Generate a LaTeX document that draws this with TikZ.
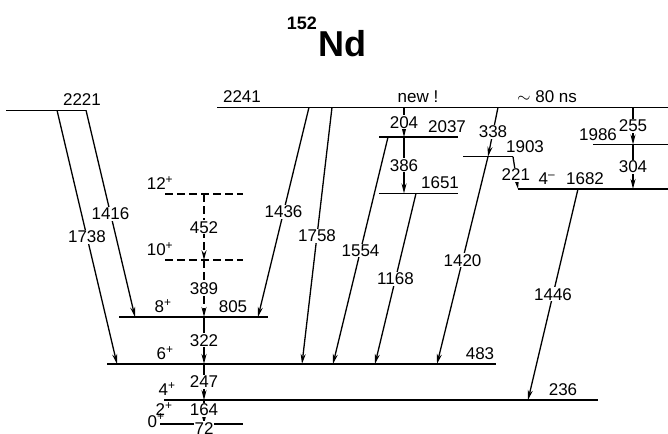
\documentclass[tikz,border=0pt]{standalone}
\usepackage{fontspec}
\setmainfont{Liberation Sans}
\usetikzlibrary{arrows.meta}

\begin{document}
\begin{tikzpicture}[x=1pt,y=0.146pt,
  lev/.style={line width=1.4pt},
  tent/.style={line width=1.4pt,dash pattern=on 8pt off 4pt},
  gam/.style={line width=1.3pt,-{Stealth[length=10pt,width=5pt]}},
  glab/.style={fill=white,inner sep=1pt,font=\fontsize{17}{17}\selectfont},
  elab/.style={anchor=base,inner sep=0pt,yshift=4.5pt,font=\fontsize{17}{17}\selectfont}]
\useasboundingbox (0,3.4) rectangle (668,2976);
% title
\node[anchor=base west,inner sep=0pt,font=\bfseries\fontsize{36}{36}\selectfont] (title) at (318,2586) {Nd};
\node[anchor=base east,inner sep=0pt,font=\bfseries\fontsize{18}{18}\selectfont] (mass) at ([xshift=-1pt,yshift=27pt]title.base west) {152};
% levels
\draw[lev] (6,2221) -- (86,2221);
\draw[lev] (217,2241) -- (668,2241);
\draw[lev] (379,2037) -- (458,2037);
\draw[lev] (593,1986) -- (668,1986);
\draw[lev] (463,1903) -- (513,1903);
\draw[lev] (518,1682) -- (668,1682);
\draw[lev] (379,1651) -- (458,1651);
\draw[tent] (165,1646) -- (243,1646);
\draw[tent] (165,1194) -- (243,1194);
\draw[lev] (119,805) -- (268,805);
\draw[lev] (107,483) -- (496,483);
\draw[lev] (164,236) -- (598,236);
\draw[lev] (160,72) -- (243,72);
\draw[lev] (163,0) -- (243,0);
% level labels
\node[elab] (e2221) at (82,2221) {2221};
\node[elab] (e2241) at (242,2241) {2241};
\node[elab] (new) at (418,2241) {new !};
\node[elab] (life) at (547,2241) {$\sim$ 80 ns};
\node[elab] (e2037) at (447,2037) {2037};
\node[elab] (e1986) at (598,1986) {1986};
\node[elab] (e1903) at (525,1903) {1903};
\node[elab] (s1682) at (547,1682) {4\textsuperscript{--}};
\node[elab] (e1682) at (585,1682) {1682};
\node[elab] (e1651) at (440,1651) {1651};
\node[elab] (s1646) at (160,1646) {12\textsuperscript{+}};
\node[elab] (s1194) at (160,1194) {10\textsuperscript{+}};
\node[elab] (s805) at (163,805) {8\textsuperscript{+}};
\node[elab] (e805) at (233,805) {805};
\node[elab] (s483) at (165,483) {6\textsuperscript{+}};
\node[elab] (e483) at (480,483) {483};
\node[elab] (s236) at (167,236) {4\textsuperscript{+}};
\node[elab] (e236) at (563,236) {236};
\node[elab,yshift=4pt] (s72) at (164,72) {2\textsuperscript{+}};
\node[elab,yshift=-5.5pt] (s0) at (156,58) {0\textsuperscript{+}};
% transitions
\draw[gam] (57,2221) -- node[glab] (g1738) {1738} (117,483);
\draw[gam] (86,2221) -- node[glab] (g1416) {1416} (135,805);
\draw[gam] (309,2241) -- node[glab] (g1436) {1436} (258,805);
\draw[gam] (332,2241) -- node[glab] (g1758) {1758} (302,483);
\draw[gam] (388,2037) -- node[glab] (g1554) {1554} (333,483);
\draw[gam] (416,1651) -- node[glab] (g1168) {1168} (375,483);
\draw[gam] (498,2241) -- node[glab] (g338) {338} (488,1903);
\draw[gam] (488,1903) -- node[glab] (g1420) {1420} (437,483);
\draw[gam] (578,1682) -- node[glab] (g1446) {1446} (528,236);
\draw[gam] (513,1903) -- node[glab,pos=0.57] (g221) {221} (518,1682);
\draw[gam] (404,2241) -- node[glab] (g204) {204} (404,2037);
\draw[gam] (404,2037) -- node[glab] (g386) {386} (404,1651);
\draw[gam] (633,2241) -- node[glab] (g255) {255} (633,1986);
\draw[gam] (633,1986) -- node[glab] (g304) {304} (633,1682);
\draw[gam,dash pattern=on 8pt off 4pt] (204,1646) -- node[glab] (g452) {452} (204,1194);
\draw[gam,dash pattern=on 8pt off 4pt] (204,1194) -- node[glab] (g389) {389} (204,805);
\draw[gam] (204,805) -- node[glab] (g322) {322} (204,483);
\draw[gam] (204,483) -- node[glab] (g247) {247} (204,236);
\draw[gam] (204,236) -- node[glab,pos=0.42] (g164) {164} (204,72);
\draw[gam] (204,72) -- node[glab,pos=0.4] (g72) {72} (204,0);
\end{tikzpicture}
\end{document}
